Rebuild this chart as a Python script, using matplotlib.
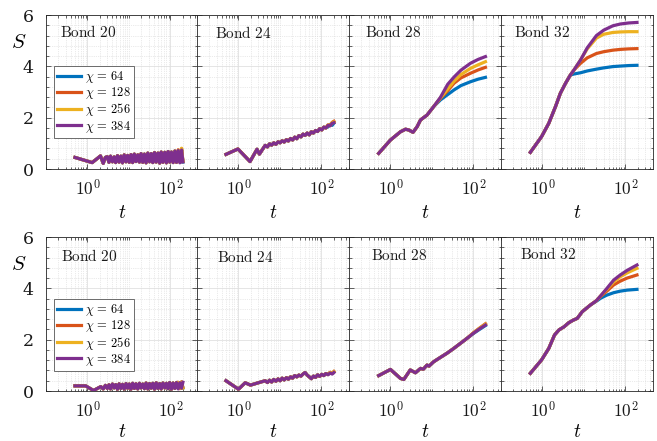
import numpy as np
import matplotlib.pyplot as plt
from matplotlib.ticker import FixedLocator, FixedFormatter, LogLocator, NullFormatter, AutoMinorLocator

plt.rcParams['mathtext.fontset'] = 'cm'
plt.rcParams['font.family'] = 'DejaVu Serif'

chis = [64, 128, 256, 384]
colors = ['#0072BD', '#D95319', '#EDB120', '#7E2F8E']
bonds = [20, 24, 28, 32]

# dense time grid for the strongly oscillating bonds
t_dense = [3.0, 3.3, 3.6, 4.0, 4.4, 4.8, 5.3, 5.8, 6.4, 7.0,
           7.7, 8.5, 9.3, 10.2, 11.2, 12.3, 13.5, 14.8, 16.3, 17.9,
           19.6, 21.5, 23.6, 25.9, 28.5, 31.3, 34.4, 37.7, 41.4, 45.5,
           50, 55, 60, 66, 73, 80, 88, 96, 106, 116,
           128, 140, 154, 169, 186, 200]

# ---------------- top row ----------------
# bond 20
t_b20_top_head = [0.5, 1.3, 2.06, 2.4, 2.7]
S_b20_top_head = [0.45, 0.25, 0.51, 0.22, 0.45]
S_b20_top_dense = [0.48, 0.26, 0.50, 0.28, 0.47, 0.25, 0.52, 0.27, 0.50, 0.24,
                   0.55, 0.28, 0.53, 0.26, 0.56, 0.25, 0.58, 0.29, 0.55, 0.27,
                   0.60, 0.26, 0.58, 0.24, 0.62, 0.28, 0.60, 0.25, 0.64, 0.27,
                   0.62, 0.23, 0.66, 0.26, 0.65, 0.24, 0.68, 0.27, 0.66, 0.25,
                   0.70, 0.26, 0.72, 0.24, 0.74, 0.28]
b20_top_tails = [[0.71, 0.27, 0.74, 0.27], [0.75, 0.28, 0.79, 0.30], [0.73, 0.27, 0.81, 0.29]]

# bond 24
t_b24_top = [0.5, 0.97, 1.9, 2.8, 3.2, 4.4, 5.0, 5.6, 6.3, 7.1, 8.0, 9.0, 10.1, 11.3,
             12.7, 14.3, 16.0, 18.0, 20.2, 22.7, 25.5, 28.6, 32.1, 36.0, 40.4, 45.4,
             51.0, 57.2, 64.2, 72.1, 80.9, 90.8, 102, 114, 128, 144, 162, 182, 200]
S_b24_top = [0.57, 0.78, 0.29, 0.77, 0.58, 0.92, 0.86, 0.98, 0.93, 1.02, 0.96, 1.06, 1.02, 1.10,
             1.05, 1.14, 1.09, 1.19, 1.13, 1.24, 1.18, 1.30, 1.25, 1.36, 1.31, 1.40,
             1.33, 1.45, 1.40, 1.50, 1.46, 1.57, 1.52, 1.63, 1.60, 1.70, 1.68, 1.78, 1.80]
b24_top_tails = [[1.64, 1.74, 1.70, 1.79], [1.72, 1.70, 1.82, 1.86], [1.71, 1.69, 1.80, 1.83]]

# bond 28
t_b28_top = [0.52, 1.0, 1.74, 2.3, 2.76, 3.5, 4.4, 5.3, 7.6, 11]
S_b28_top = [0.61, 1.13, 1.45, 1.55, 1.52, 1.43, 1.65, 1.91, 2.10, 2.43]
t_b28_top_tail = [16, 24, 34, 50, 85, 130, 195]
b28_top_tails = [[2.69, 2.90, 3.08, 3.25, 3.40, 3.50, 3.57],
                 [2.75, 3.05, 3.34, 3.55, 3.73, 3.86, 3.96],
                 [2.77, 3.12, 3.42, 3.68, 3.92, 4.06, 4.18],
                 [2.79, 3.30, 3.58, 3.85, 4.12, 4.27, 4.38]]

# bond 32
t_b32_top = [0.51, 0.95, 1.42, 2.06, 2.7, 3.6, 4.7]
S_b32_top = [0.65, 1.26, 1.78, 2.43, 2.95, 3.34, 3.66]
t_b32_top_tail = [5.7, 8.3, 12, 20, 30, 50, 76, 120, 190]
b32_top_tails = [[3.70, 3.75, 3.82, 3.89, 3.94, 3.99, 4.01, 4.03, 4.04],
                 [3.85, 4.12, 4.33, 4.50, 4.57, 4.63, 4.66, 4.68, 4.69],
                 [3.85, 4.25, 4.68, 5.10, 5.25, 5.32, 5.34, 5.35, 5.35],
                 [3.85, 4.25, 4.72, 5.20, 5.41, 5.58, 5.65, 5.69, 5.71]]

# ---------------- bottom row ----------------
t_b20_bot_head = [0.5, 0.9, 1.4, 2.1, 2.4, 2.7]
S_b20_bot_head = [0.20, 0.20, 0.02, 0.17, 0.08, 0.22]
S_b20_bot_dense = [0.10, 0.24, 0.08, 0.27, 0.12, 0.25, 0.07, 0.28, 0.10, 0.26,
                   0.08, 0.29, 0.11, 0.27, 0.07, 0.30, 0.10, 0.28, 0.08, 0.30,
                   0.12, 0.27, 0.09, 0.31, 0.08, 0.29, 0.11, 0.30, 0.07, 0.32,
                   0.10, 0.29, 0.08, 0.31, 0.12, 0.30, 0.09, 0.33, 0.07, 0.31,
                   0.10, 0.33, 0.08, 0.32, 0.11, 0.34]
b20_bot_tails = [[0.33, 0.10, 0.34, 0.12], [0.34, 0.09, 0.36, 0.13], [0.33, 0.10, 0.35, 0.12]]

t_b24_bot = [0.5, 1.0, 1.45, 1.95, 3.0, 4.4, 5.0, 5.6, 6.3, 7.1, 8.0, 9.0, 10.1, 11.3,
             12.7, 14.3, 16.0, 18.0, 20.2, 22.7, 25.5, 28.6, 32.1, 36.0, 40.4, 45.4,
             51.0, 57.2, 64.2, 72.1, 80.9, 90.8, 102, 114, 128, 144, 162, 182, 200]
S_b24_bot = [0.40, 0.07, 0.32, 0.23, 0.32, 0.40, 0.33, 0.42, 0.35, 0.45, 0.38, 0.47, 0.40, 0.50,
             0.43, 0.52, 0.46, 0.55, 0.50, 0.60, 0.55, 0.62, 0.58, 0.66, 0.72, 0.62,
             0.55, 0.48, 0.58, 0.53, 0.63, 0.57, 0.65, 0.60, 0.68, 0.63, 0.70, 0.66, 0.72]
b24_bot_tails = [[0.66, 0.71, 0.68, 0.74], [0.65, 0.73, 0.70, 0.76], [0.64, 0.72, 0.69, 0.75]]

t_b28_bot = [0.52, 1.0, 1.74, 2.1, 3.0, 4.0, 5.3, 6.2, 7.6, 8.5, 11, 15, 23, 33, 49, 70, 100, 140, 195]
S_b28_bot = [0.60, 0.84, 0.49, 0.45, 0.82, 0.71, 0.88, 0.85, 1.01, 0.97, 1.14, 1.28, 1.47,
             1.65, 1.86, 2.05, 2.25, 2.42, 2.57]
b28_bot_tails = [[2.24, 2.40, 2.55], [2.27, 2.45, 2.62], [2.26, 2.44, 2.60]]

t_b32_bot = [0.51, 0.95, 1.42, 1.95, 2.5, 3.3, 4.3, 5.5, 6.9, 9.1, 14.3]
S_b32_bot = [0.69, 1.21, 1.66, 2.18, 2.38, 2.50, 2.66, 2.76, 2.83, 3.09, 3.35]
t_b32_bot_tail = [20, 25, 35, 52, 75, 110, 190]
b32_bot_tails = [[3.50, 3.61, 3.73, 3.83, 3.89, 3.93, 3.96],
                 [3.52, 3.68, 3.88, 4.13, 4.28, 4.40, 4.52],
                 [3.52, 3.70, 3.95, 4.25, 4.45, 4.60, 4.78],
                 [3.52, 3.70, 3.98, 4.32, 4.52, 4.70, 4.91]]


def noisy(t, s, tails):
    out = []
    for k in range(4):
        if k < 3:
            tail = tails[k]
            out.append((t, s[:len(s) - len(tail)] + tail))
        else:
            out.append((t, s))
    return out


def branched(t0, s0, tt, tails):
    return [(t0 + tt, s0 + tails[k]) for k in range(4)]


rows = [
    [noisy(t_b20_top_head + t_dense, S_b20_top_head + S_b20_top_dense, b20_top_tails),
     noisy(t_b24_top, S_b24_top, b24_top_tails),
     branched(t_b28_top, S_b28_top, t_b28_top_tail, b28_top_tails),
     branched(t_b32_top, S_b32_top, t_b32_top_tail, b32_top_tails)],
    [noisy(t_b20_bot_head + t_dense, S_b20_bot_head + S_b20_bot_dense, b20_bot_tails),
     noisy(t_b24_bot, S_b24_bot, b24_bot_tails),
     noisy(t_b28_bot, S_b28_bot, b28_bot_tails),
     branched(t_b32_bot, S_b32_bot, t_b32_bot_tail, b32_bot_tails)],
]

W, H = 657, 441
fig = plt.figure(figsize=(W / 100, H / 100), dpi=100)

lefts = [46, 197, 349, 501]
pw = 151.5
tops = [15, 237]
ph = 154
bond_pos = [[(0.092, 0.89), (0.119, 0.885), (0.106, 0.89), (0.088, 0.89)],
            [(0.099, 0.875), (0.13, 0.87), (0.145, 0.885), (0.125, 0.89)]]
leg_y = [0.67, 0.598]
xlab_y = [213, 432]
axc = '#262626'

for r in range(2):
    for c in range(4):
        ax = fig.add_axes([lefts[c] / W, 1 - (tops[r] + ph) / H, pw / W, ph / H])
        for k in range(4):
            tt, ss = rows[r][c][k]
            ax.plot(tt, ss, color=colors[k], lw=2.3, label=r'$\chi\, =\, %d$' % chis[k],
                    solid_joinstyle='round')
        ax.set_xscale('log')
        ax.set_xlim(0.1, 450)
        ax.set_ylim(0, 6)
        ax.xaxis.set_major_locator(FixedLocator([1, 100]))
        ax.xaxis.set_major_formatter(FixedFormatter([r'$10^{0}$', r'$10^{2}$']))
        ax.xaxis.set_minor_locator(LogLocator(base=10, subs=np.arange(1, 10)))
        ax.xaxis.set_minor_formatter(NullFormatter())
        ax.yaxis.set_major_locator(FixedLocator([0, 2, 4, 6]))
        ax.yaxis.set_minor_locator(AutoMinorLocator(5))
        ax.grid(True, which='major', color='#e0e0e0', lw=0.6, ls='-')
        ax.grid(True, which='minor', color='#d6d6d6', lw=0.5, ls=':')
        ax.set_axisbelow(True)
        ax.tick_params(which='both', direction='in', top=True, right=True,
                       color=axc, width=0.5, labelcolor='#1a1a1a')
        ax.tick_params(which='major', length=3.5)
        ax.tick_params(which='minor', length=1.8)
        ax.tick_params(axis='x', labelsize=12.5, pad=7)
        ax.tick_params(axis='y', labelsize=12.5, pad=9)
        if c > 0:
            ax.set_yticklabels([])
        for sp in ax.spines.values():
            sp.set_color(axc)
            sp.set_linewidth(0.6)
        bx, by = bond_pos[r][c]
        ax.text(bx, by, r'$\mathrm{Bond\ %d}$' % bonds[c], transform=ax.transAxes,
                fontsize=11, va='center', ha='left', color='#1a1a1a')
        fig.text((lefts[c] + pw / 2) / W, 1 - xlab_y[r] / H, r'$t$',
                 fontsize=14, ha='center', va='center')
        if c == 0:
            leg = ax.legend(loc='upper left', bbox_to_anchor=(0.052, leg_y[r]), borderaxespad=0,
                            fontsize=9, handlelength=1.9, handletextpad=0.3,
                            labelspacing=0.02, borderpad=0.25, fancybox=False,
                            framealpha=1, edgecolor='#555555')
            leg.get_frame().set_linewidth(0.6)
            fig.text(19 / W, 1 - (tops[r] + 28) / H, r'$S$', fontsize=15,
                     ha='center', va='center')

fig.savefig('out.png', dpi=100)
